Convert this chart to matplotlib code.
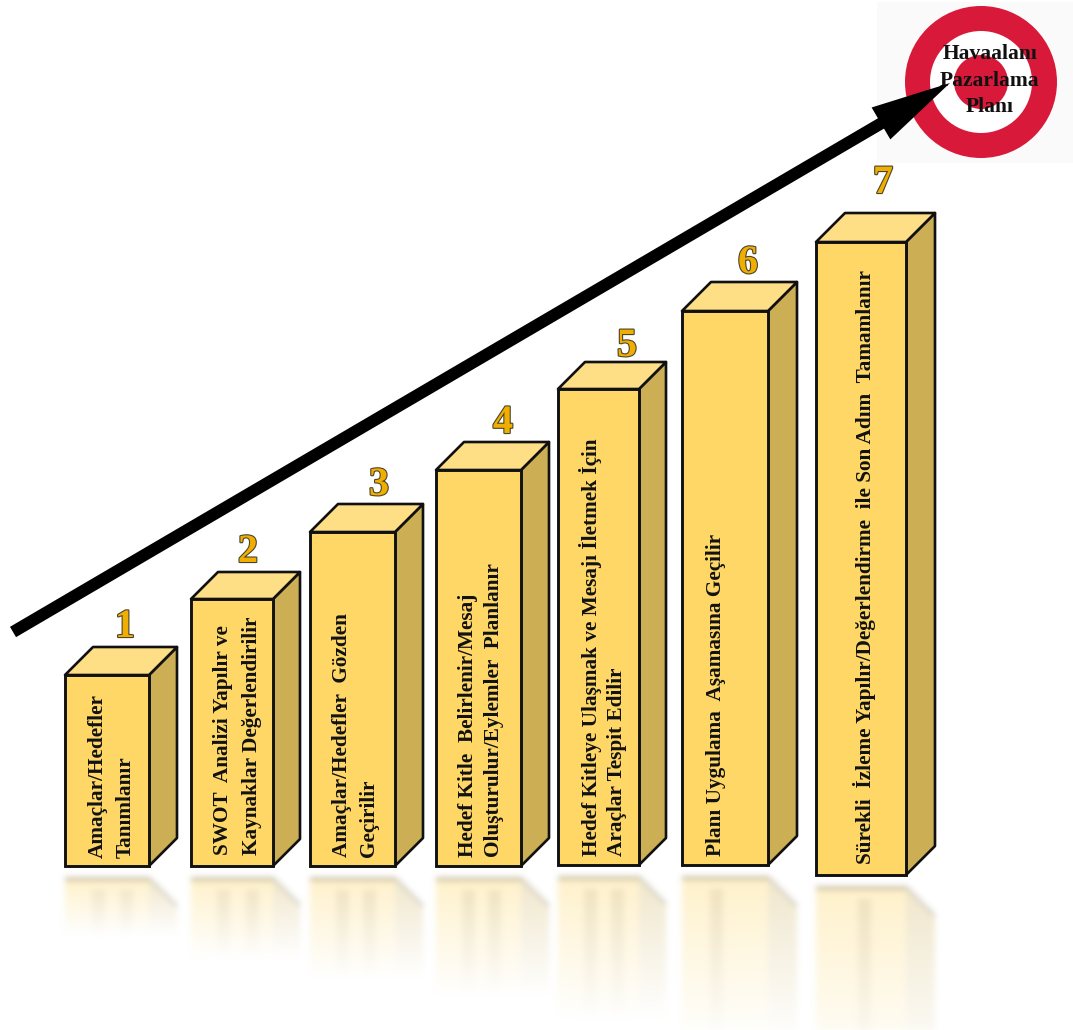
"""
Seven-step airport marketing plan staircase: 3D bars with mirrored floor
reflections, rising towards a target.
"""
import numpy as np
import matplotlib
matplotlib.use('Agg')
import matplotlib.pyplot as plt
import matplotlib.patheffects as pe
from matplotlib.patches import Circle, FancyArrow, Polygon, Rectangle

W, H = 1073, 1030

STEPS = ['1', '2', '3', '4', '5', '6', '7']
BAR_HEIGHTS = [191, 267, 334, 396, 476, 554, 633]
STEP_LINES = [
    ['Amaçlar/Hedefler', 'Tanımlanır'],
    ['SWOT  Analizi Yapılır ve', 'Kaynaklar Değerlendirilir'],
    ['Amaçlar/Hedefler  Gözden', 'Geçirilir'],
    ['Hedef Kitle  Belirlenir/Mesaj', 'Oluşturulur/Eylemler  Planlanır'],
    ['Hedef Kitleye Ulaşmak ve Mesajı İletmek İçin', 'Araçlar Tespit Edilir'],
    ['Planı Uygulama  Aşamasına Geçilir'],
    ['Sürekli  İzleme Yapılır/Değerlendirme  ile Son Adım  Tamamlanır'],
]
TARGET_LINES = ['Havaalanı', 'Pazarlama', 'Planı']

# layout, in canvas pixels
LEFTS = [65, 191, 310, 436, 558, 682, 816]
RIGHTS = [149, 273, 395, 521, 639, 768, 906]
BASES = [866, 866, 866, 866, 865, 865, 875]
DEPTHS = [28, 27, 28, 28, 27, 29, 29]
LINE_X = [[98, 126], [223, 252], [342, 369], [468, 494], [590, 617], [716], [864]]
LINE_BOTTOM = [858, 855, 857, 857, 856, 856, 864]
DIGIT_X = [125, 248, 379, 503, 627, 748, 883]
DIGIT_Y = [637, 562, 495, 433, 356, 273, 193]

FRONT = '#FFD766'
TOP = '#FFDF85'
SIDE = '#CCAE55'
EDGE = '#111111'
RED = '#D8193A'
SERIF = 'Liberation Serif'


def _blur(img, sigma=3.0):
    r = int(sigma * 3)
    k = np.exp(-0.5 * (np.arange(-r, r + 1) / sigma) ** 2)
    k /= k.sum()
    img = np.apply_along_axis(lambda v: np.convolve(v, k, mode='same'), 0, img)
    return np.apply_along_axis(lambda v: np.convolve(v, k, mode='same'), 1, img)


def _reflection_layer():
    """Faded mirror of every bar on the floor, as one RGBA canvas."""
    yy, xx = np.mgrid[0:H, 0:W]
    front_a = np.zeros((H, W))
    side_a = np.zeros((H, W))
    edge_a = np.zeros((H, W))
    for i, h in enumerate(BAR_HEIGHTS):
        x0, x1, d = LEFTS[i], RIGHTS[i], DEPTHS[i]
        y0 = BASES[i] + 12
        fade = np.clip(1 - (yy - y0) / (0.3 * h), 0, 1)
        front = (xx >= x0) & (xx < x1) & (yy >= y0)
        side = (xx >= x1) & (xx < x1 + d) & (yy >= y0 + (xx - x1))
        front_a[front] = np.maximum(front_a, 0.34 * fade)[front]
        side_a[side] = np.maximum(side_a, 0.30 * fade)[side]
        top_edge = (xx >= x0) & (xx < x1) & (yy >= y0 - 1) & (yy < y0 + 3)
        slant = (xx >= x1) & (xx < x1 + d) & (np.abs(yy - y0 - (xx - x1)) < 2)
        edge_a[top_edge | slant] = 0.3
        # smudges left by the mirrored lettering
        for lx in LINE_X[i]:
            text_band = (np.abs(xx - lx) < 7) & (yy >= y0 + 12)
            edge_a[text_band] = np.maximum(edge_a, 0.1 * fade)[text_band]

    front_a, side_a, edge_a = _blur(front_a), _blur(side_a), _blur(edge_a)
    rgba = np.ones((H, W, 4))
    total = front_a + side_a + edge_a + 1e-6
    for c, (f, s, e) in enumerate(zip((1.0, 0.84, 0.4), (0.8, 0.68, 0.33), (0.35, 0.35, 0.35))):
        rgba[..., c] = (f * front_a + s * side_a + e * edge_a) / total
    rgba[..., 3] = np.clip(total, 0, 1)
    return rgba


def plot_steps(output_path='out.png'):
    fig = plt.figure(figsize=(W / 100, H / 100), dpi=100, facecolor='white')
    ax = fig.add_axes([0, 0, 1, 1])

    ax.imshow(_reflection_layer(), extent=(0, W, H, 0), aspect='auto',
              interpolation='bilinear', zorder=1)
    ax.set_xlim(0, W)
    ax.set_ylim(H, 0)
    ax.axis('off')

    for i, h in enumerate(BAR_HEIGHTS):
        x0, x1, base, d = LEFTS[i], RIGHTS[i], BASES[i], DEPTHS[i]
        top = base - h
        ax.add_patch(Polygon([(x1, top), (x1 + d, top - d), (x1 + d, base - d), (x1, base)],
                             closed=True, fc=SIDE, ec=EDGE, lw=1.9, joinstyle='round', zorder=3))
        ax.add_patch(Polygon([(x0, top), (x0 + d, top - d), (x1 + d, top - d), (x1, top)],
                             closed=True, fc=TOP, ec=EDGE, lw=1.9, joinstyle='round', zorder=3))
        ax.add_patch(Rectangle((x0, top), x1 - x0, h, fc=FRONT, ec=EDGE, lw=2.1,
                               joinstyle='miter', zorder=4))

        for lx, line in zip(LINE_X[i], STEP_LINES[i]):
            ax.text(lx, LINE_BOTTOM[i], line, rotation=90, ha='center', va='bottom',
                    fontsize=15.3, fontweight='bold', family=SERIF, color='#111111', zorder=5)

        ax.text(DIGIT_X[i], DIGIT_Y[i], STEPS[i], ha='center', va='baseline',
                fontsize=29, fontweight='bold', family=SERIF, color='#F0AE00', zorder=5,
                path_effects=[pe.withStroke(linewidth=1.6, foreground='#4A4430')])

    # target in the upper right corner
    ax.add_patch(Rectangle((877, 2), W - 877, 161, fc='#FAFAFA', ec='none', zorder=2))
    ax.add_patch(Circle((981, 82), 76, fc=RED, ec='none', zorder=3))
    ax.add_patch(Circle((981, 82), 51, fc='white', ec='none', zorder=3))
    ax.add_patch(Circle((981, 82), 27, fc=RED, ec='none', zorder=3))
    for y, line in zip((54, 81, 107), TARGET_LINES):
        ax.text(990, y, line, ha='center', va='center', fontsize=15.5, fontweight='bold',
                family=SERIF, color='#111111', zorder=5)

    ax.add_patch(FancyArrow(13, 632, 937, -549, width=12, head_width=37, head_length=80,
                            length_includes_head=True, fc='black', ec='black', lw=0, zorder=6))

    fig.savefig(output_path, dpi=100, facecolor='white')
    return fig


if __name__ == '__main__':
    plot_steps()
